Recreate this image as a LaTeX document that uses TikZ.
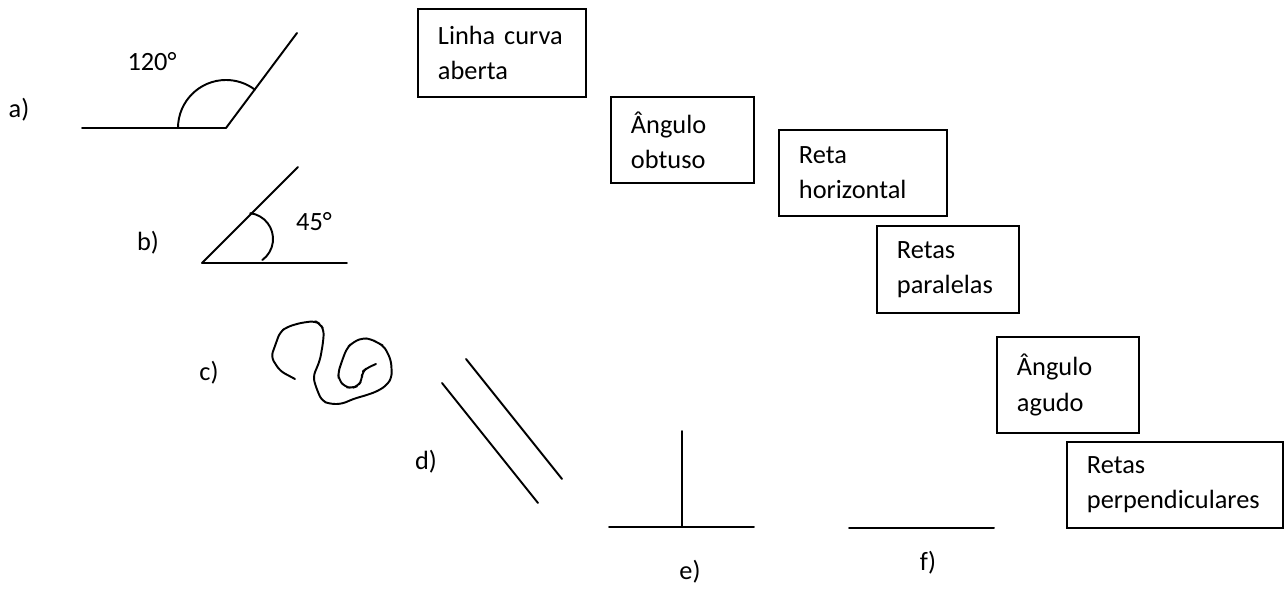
\documentclass[tikz,border=0pt]{standalone}
\usepackage{fontspec}
\setmainfont{Carlito}
\usepackage{tikz}
\usetikzlibrary{positioning}
\tikzset{
    answerBox/.style 2 args={
		draw, line width=1.1pt, anchor=north west, align=left,
		inner xsep=0.4cm, inner ysep=0pt,
		text width=#1, minimum height=#2,
		font=\fontsize{15}{20}\selectfont
	}
}
\tikzset{
    itemLabel/.style={font=\fontsize{15}{20}\selectfont}
}
\tikzset{
    figLine/.style={line width=1.1pt, line cap=round, line join=round}
}

\begin{document}
\begin{tikzpicture}[x=0.02cm,y=0.02cm]
        \useasboundingbox (0,0) rectangle (1284,594);
        % a) obtuse angle
        \node[itemLabel] (labA) at (19,484) {a)};
        \draw[figLine] (82,466) -- (226,466) -- (297,561);
        \draw[figLine] (178,466) arc (180:53:48);
        \node[itemLabel] (degA) at (152,532) {120°};
        % b) acute angle
        \node[itemLabel] (labB) at (148,351) {b)};
        \draw[figLine] (347,331) -- (202,331) -- (298,427);
        \draw[figLine] (250.2,380.8) arc (83:-54:26);
        \node[itemLabel] (degB) at (314,372) {45°};
        % c) open curve
        \node[itemLabel] (labC) at (209,221) {c)};
        \draw[figLine, rounded corners=3] (295,215) -- (280,223) -- (271,237) -- (280,262)
            -- (287,267) -- (300,271) -- (315,273) -- (320,270) -- (324,264) -- (323,251)
            -- (320,234) -- (313,217) -- (317,204) -- (322,193) -- (330,190) -- (342,190)
            -- (353,195) -- (367,199) -- (378,203) -- (387,209) -- (392,217) -- (391,234)
            -- (384,248) -- (378,251) -- (371,255) -- (362,256) -- (352,251) -- (347,246)
            -- (343,236) -- (338,221) -- (339,214) -- (345,207) -- (352,206) -- (358,208)
            -- (362,214) -- (362,222) -- (367,226) -- (376,230);
        % d) parallel lines
        \node[itemLabel] (labD) at (426,132) {d)};
        \draw[figLine] (442,211) -- (538,91);
        \draw[figLine] (466,235) -- (562,115);
        % e) perpendicular lines
        \draw[figLine] (609,67) -- (754,67);
        \draw[figLine] (682,67) -- (682,163);
        \node[itemLabel] (labE) at (690,22) {e)};
        % f) horizontal line
        \draw[figLine] (849,66) -- (994,66);
        \node[itemLabel] (labF) at (928,31) {f)};
        % answer boxes
        \node[answerBox={2.56cm}{1.76cm}] (boxCurve) at (417,586) {Linha curva\\aberta};
        \node[answerBox={2.06cm}{1.72cm}] (boxObtuse) at (610,498) {Ângulo\\obtuso};
        \node[answerBox={2.56cm}{1.72cm}] (boxHoriz) at (778,465) {Reta\\horizontal};
        \node[answerBox={2.04cm}{1.74cm}] (boxParallel) at (876,369) {Retas\\paralelas};
        \node[answerBox={2.04cm}{1.92cm}] (boxAcute) at (996,258) {Ângulo\\agudo};
        \node[answerBox={3.52cm}{1.72cm}] (boxPerp) at (1066,153) {Retas\\perpendiculares};
      \end{tikzpicture}
\end{document}
